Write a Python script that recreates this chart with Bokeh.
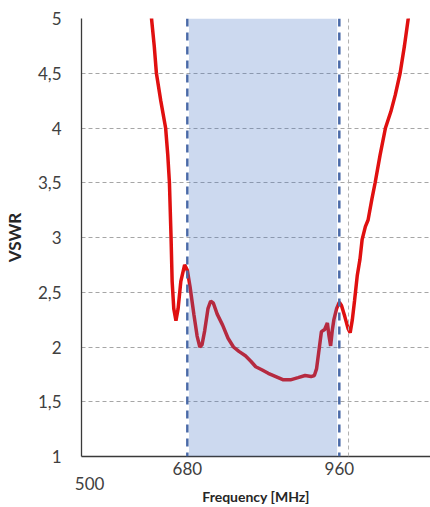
from bokeh.plotting import figure
from bokeh.models import (FixedTicker, LinearAxis, Span, BoxAnnotation, Range1d,
                          CustomJSTickFormatter)
from bokeh.embed import file_html
from bokeh.resources import INLINE

# ---- data ----
freq_mhz = [612, 614, 619, 623, 631, 640, 644, 647, 650, 652, 655, 659, 663, 668, 675,
            680, 685, 692, 698, 703, 707, 712, 718, 723, 728, 735, 745, 755, 765, 775,
            787, 797, 806, 818, 829, 843, 857, 870, 884, 897, 908, 914, 918, 922, 927,
            933, 938, 941, 944, 947, 950, 955, 960, 964, 970, 976, 980, 984, 988, 993,
            998, 1002, 1008, 1013, 1020, 1026, 1035, 1045, 1055, 1063, 1072, 1080, 1087, 1089]
vswr = [5.2, 5.0, 4.75, 4.5, 4.25, 4.0, 3.75, 3.5, 3.0, 2.6, 2.35, 2.24, 2.35, 2.6, 2.75,
        2.7, 2.55, 2.3, 2.1, 2.0, 2.02, 2.15, 2.35, 2.42, 2.4, 2.3, 2.2, 2.08, 2.0, 1.96,
        1.92, 1.87, 1.82, 1.79, 1.76, 1.73, 1.70, 1.70, 1.72, 1.74, 1.73, 1.74, 1.80, 1.95, 2.14,
        2.16, 2.22, 2.1, 2.01, 2.15, 2.25, 2.35, 2.41, 2.38, 2.28, 2.17, 2.13, 2.25, 2.42, 2.65,
        2.8, 2.98, 3.1, 3.16, 3.35, 3.5, 3.75, 4.0, 4.15, 4.3, 4.5, 4.75, 5.0, 5.1]
band_start = 683
band_end = 956
band_markers = [680, 960]
grey_marker = 977
x_ticks_main = [680, 960]
x_ticks_extra = [500]
y_ticks = [1, 1.5, 2, 2.5, 3, 3.5, 4, 4.5, 5]

FONT = "Lato"
TXT = "#404040"

p = figure(frame_width=349, frame_height=438, output_backend="svg", toolbar_location=None,
           x_range=Range1d(485, 1128), y_range=Range1d(1, 5),
           min_border_left=81, min_border_right=0, min_border_top=18, min_border_bottom=51)
p.outline_line_color = None
p.background_fill_color = "white"

# red curve
p.line(freq_mhz, vswr, line_color="#e01010", line_width=3.5)

# shaded band on top
p.add_layout(BoxAnnotation(left=band_start, right=band_end, fill_color="#4472C4",
                           fill_alpha=0.27, line_color=None))
for f in band_markers:
    p.add_layout(Span(location=f, dimension="height", line_color="#4a6aa8",
                      line_width=2.5, line_dash="8 6"))
p.add_layout(Span(location=grey_marker, dimension="height", line_color="#b0b0b0",
                  line_width=1, line_dash="4 3"))

# y axis
ya = p.yaxis[0]
ya.ticker = FixedTicker(ticks=y_ticks)
ya.formatter = CustomJSTickFormatter(code="return tick.toString().replace('.', ',');")
ya.major_tick_out = 0
ya.major_tick_in = 0
ya.minor_tick_out = 0
ya.minor_tick_in = 0
ya.major_label_standoff = 20
ya.major_label_text_font = FONT
ya.major_label_text_font_size = "17px"
ya.major_label_text_color = TXT
ya.axis_line_color = "#3a3a3a"
ya.axis_line_width = 1.3
ya.axis_label = "VSWR"
ya.axis_label_text_font = FONT
ya.axis_label_text_font_style = "bold"
ya.axis_label_text_font_size = "17px"
ya.axis_label_text_color = "#262626"
ya.axis_label_standoff = 10

p.ygrid[0].ticker = FixedTicker(ticks=y_ticks)
p.ygrid[0].grid_line_color = "#a6a6a6"
p.ygrid[0].grid_line_dash = "4 3"
p.ygrid[0].grid_line_width = 1
p.xgrid[0].grid_line_color = None

# x axis (main labels)
xa = p.xaxis[0]
xa.ticker = FixedTicker(ticks=x_ticks_main)
xa.major_tick_out = 0
xa.major_tick_in = 0
xa.minor_tick_out = 0
xa.minor_tick_in = 0
xa.major_label_standoff = 5
xa.major_label_text_font = FONT
xa.major_label_text_font_size = "17px"
xa.major_label_text_color = TXT
xa.axis_line_color = "#3a3a3a"
xa.axis_line_width = 1.3

# second x axis with the 500 label and title
xb = LinearAxis(ticker=FixedTicker(ticks=x_ticks_extra))
xb.axis_line_color = None
xb.major_tick_out = 0
xb.major_tick_in = 0
xb.minor_tick_out = 0
xb.minor_tick_in = 0
xb.major_label_standoff = -1
xb.major_label_text_font = FONT
xb.major_label_text_font_size = "17px"
xb.major_label_text_color = TXT
xb.axis_label = "Frequency [MHz]"
xb.axis_label_text_font = FONT
xb.axis_label_text_font_style = "bold"
xb.axis_label_text_font_size = "14px"
xb.axis_label_text_color = "#262626"
xb.axis_label_standoff = -5
p.add_layout(xb, "below")

open("out.html", "w").write(file_html(p, INLINE))
